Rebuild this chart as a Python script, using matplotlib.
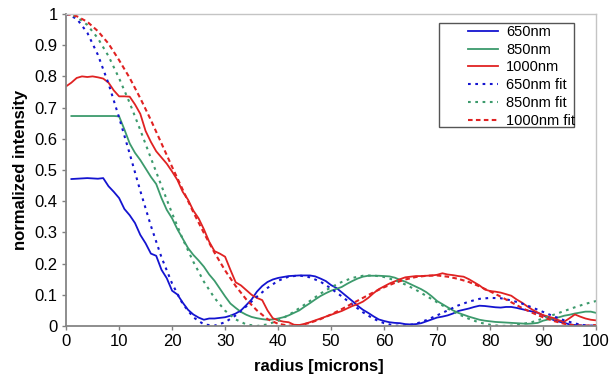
import numpy as np
import matplotlib
matplotlib.use('Agg')
import matplotlib.pyplot as plt
from matplotlib.patches import Rectangle

plt.rcParams['font.family'] = ['Liberation Sans', 'DejaVu Sans']

# radius grids (microns)
r_meas = np.arange(0, 101)
r_fit = np.arange(0, 101, 2)

# measured profiles (blue and green start at r=1)
blue_meas = [
    0.471, 0.472, 0.473, 0.474, 0.473, 0.472, 0.474, 0.448, 0.430, 0.410,
    0.375, 0.355, 0.330, 0.292, 0.265, 0.232, 0.225, 0.180, 0.153, 0.113,
    0.101, 0.075, 0.052, 0.037, 0.027, 0.020, 0.024, 0.024, 0.026, 0.028,
    0.033, 0.040, 0.050, 0.067, 0.085, 0.110, 0.128, 0.141, 0.149, 0.154,
    0.157, 0.160, 0.161, 0.162, 0.162, 0.162, 0.159, 0.152, 0.144, 0.131,
    0.122, 0.108, 0.094, 0.080, 0.065, 0.052, 0.042, 0.031, 0.021, 0.016,
    0.012, 0.010, 0.009, 0.006, 0.005, 0.006, 0.009, 0.015, 0.021, 0.027,
    0.030, 0.034, 0.040, 0.048, 0.052, 0.056, 0.061, 0.065, 0.064, 0.062,
    0.060, 0.059, 0.061, 0.061, 0.058, 0.054, 0.050, 0.046, 0.042, 0.034,
    0.026, 0.019, 0.014, 0.010, 0.005, 0.003, 0.002, 0.001, 0.001, 0.001]
green_meas = [
    0.673, 0.673, 0.673, 0.673, 0.673, 0.673, 0.673, 0.673, 0.673, 0.672,
    0.630, 0.585, 0.555, 0.532, 0.505, 0.478, 0.455, 0.410, 0.372, 0.345,
    0.310, 0.280, 0.250, 0.228, 0.210, 0.190, 0.165, 0.145, 0.120, 0.095,
    0.072, 0.058, 0.045, 0.036, 0.029, 0.025, 0.022, 0.020, 0.021, 0.024,
    0.028, 0.034, 0.042, 0.050, 0.062, 0.073, 0.085, 0.096, 0.105, 0.113,
    0.119, 0.125, 0.135, 0.144, 0.152, 0.158, 0.161, 0.161, 0.161, 0.160,
    0.159, 0.155, 0.148, 0.142, 0.134, 0.126, 0.118, 0.108, 0.095, 0.080,
    0.070, 0.060, 0.050, 0.042, 0.036, 0.030, 0.025, 0.020, 0.017, 0.015,
    0.013, 0.012, 0.011, 0.010, 0.009, 0.008, 0.007, 0.008, 0.010, 0.017,
    0.021, 0.024, 0.028, 0.033, 0.036, 0.040, 0.043, 0.046, 0.046, 0.042]
red_meas = [
    0.768, 0.780, 0.795, 0.800, 0.798, 0.800, 0.797, 0.793, 0.780, 0.755,
    0.736, 0.736, 0.735, 0.710, 0.680, 0.625, 0.590, 0.560, 0.540, 0.520,
    0.495, 0.468, 0.430, 0.405, 0.370, 0.345, 0.310, 0.270, 0.240, 0.232,
    0.222, 0.180, 0.140, 0.130, 0.115, 0.100, 0.090, 0.083, 0.050, 0.025,
    0.018, 0.014, 0.012, 0.004, 0.003, 0.007, 0.012, 0.018, 0.024, 0.030,
    0.036, 0.042, 0.048, 0.056, 0.064, 0.070, 0.078, 0.090, 0.105, 0.118,
    0.127, 0.136, 0.143, 0.150, 0.156, 0.158, 0.160, 0.160, 0.161, 0.162,
    0.164, 0.169, 0.165, 0.163, 0.160, 0.158, 0.150, 0.140, 0.130, 0.117,
    0.112, 0.110, 0.107, 0.102, 0.097, 0.085, 0.075, 0.063, 0.052, 0.043,
    0.035, 0.030, 0.025, 0.018, 0.014, 0.025, 0.037, 0.030, 0.024, 0.020,
    0.018]

# fitted profiles
blue_fit = [
    1.000, 0.985, 0.940, 0.869, 0.777, 0.668, 0.552, 0.433, 0.321, 0.220,
    0.136, 0.071, 0.028, 0.005, 0.001, 0.012, 0.034, 0.063, 0.094, 0.122,
    0.145, 0.158, 0.162, 0.156, 0.142, 0.120, 0.095, 0.069, 0.044, 0.023,
    0.009, 0.001, 0.001, 0.007, 0.019, 0.034, 0.050, 0.066, 0.078, 0.087,
    0.090, 0.089, 0.082, 0.072, 0.059, 0.045, 0.031, 0.018, 0.008, 0.002,
    0.000]
green_fit = [
    1.000, 0.991, 0.965, 0.922, 0.865, 0.794, 0.715, 0.628, 0.538, 0.449,
    0.361, 0.279, 0.206, 0.142, 0.090, 0.049, 0.021, 0.005, 0.000, 0.005,
    0.017, 0.035, 0.057, 0.080, 0.104, 0.124, 0.141, 0.154, 0.161, 0.162,
    0.157, 0.147, 0.133, 0.116, 0.096, 0.076, 0.056, 0.038, 0.023, 0.011,
    0.004, 0.000, 0.001, 0.006, 0.013, 0.024, 0.036, 0.048, 0.060, 0.071,
    0.080]
red_fit = [
    1.000, 0.993, 0.975, 0.945, 0.905, 0.852, 0.795, 0.730, 0.660, 0.585,
    0.510, 0.437, 0.365, 0.298, 0.235, 0.178, 0.128, 0.085, 0.050, 0.022,
    0.007, 0.001, 0.002, 0.010, 0.022, 0.037, 0.054, 0.072, 0.090, 0.108,
    0.124, 0.138, 0.149, 0.157, 0.161, 0.162, 0.158, 0.151, 0.141, 0.127,
    0.111, 0.094, 0.076, 0.058, 0.042, 0.028, 0.016, 0.007, 0.002, 0.001,
    0.003]

c_blue = '#1414d0'
c_green = '#3c9a6c'
c_red = '#e02222'

fig = plt.figure(figsize=(6.12, 3.78), dpi=100)
ax = fig.add_axes([0.108, 0.1376, 0.866, 0.8254])

ax.plot(r_meas[1:], blue_meas, color=c_blue, lw=1.3, label='650nm')
ax.plot(r_meas[1:], green_meas, color=c_green, lw=1.3, label='850nm')
ax.plot(r_meas, red_meas, color=c_red, lw=1.3, label='1000nm')
ax.plot(r_fit, blue_fit, color=c_blue, lw=1.5, ls=(0, (1.3, 2.2)), label='650nm fit')
ax.plot(r_fit, green_fit, color=c_green, lw=1.5, ls=(0, (1.3, 2.2)), label='850nm fit')
ax.plot(r_fit, red_fit, color=c_red, lw=1.5, ls=(0, (2.2, 1.6)), label='1000nm fit')

ax.set_xlim(0, 100)
ax.set_ylim(0, 1)
ax.set_xticks(np.arange(0, 101, 10))
ax.set_yticks(np.arange(0, 1.01, 0.1))
ax.set_yticklabels(['0', '0.1', '0.2', '0.3', '0.4', '0.5', '0.6', '0.7', '0.8', '0.9', '1'])
ax.tick_params(labelsize=12, length=3, width=1, color='#808080', pad=3)

for s in ['left', 'bottom']:
    ax.spines[s].set_color('#858585')
    ax.spines[s].set_linewidth(1.3)
for s in ['top', 'right']:
    ax.spines[s].set_color('#c4c4c4')
    ax.spines[s].set_linewidth(1.0)

ax.set_xlabel('radius [microns]', fontsize=12, fontweight='bold')
ax.set_ylabel('normalized intensity', fontsize=12, fontweight='bold')
ax.xaxis.set_label_coords(0.476, -0.105)
ax.yaxis.set_label_coords(-0.072, 0.5)

leg = ax.legend(loc='upper left', bbox_to_anchor=(0.7585, 0.965), frameon=False,
                fontsize=10.5, handlelength=2.05, handletextpad=0.55,
                borderpad=0, labelspacing=0.26, borderaxespad=0)
ax.add_patch(Rectangle((0.7043, 0.639), 0.2547, 0.331, transform=ax.transAxes,
                       fill=False, edgecolor='#555555', lw=1.0, zorder=5))

fig.savefig('out.png', dpi=100)
